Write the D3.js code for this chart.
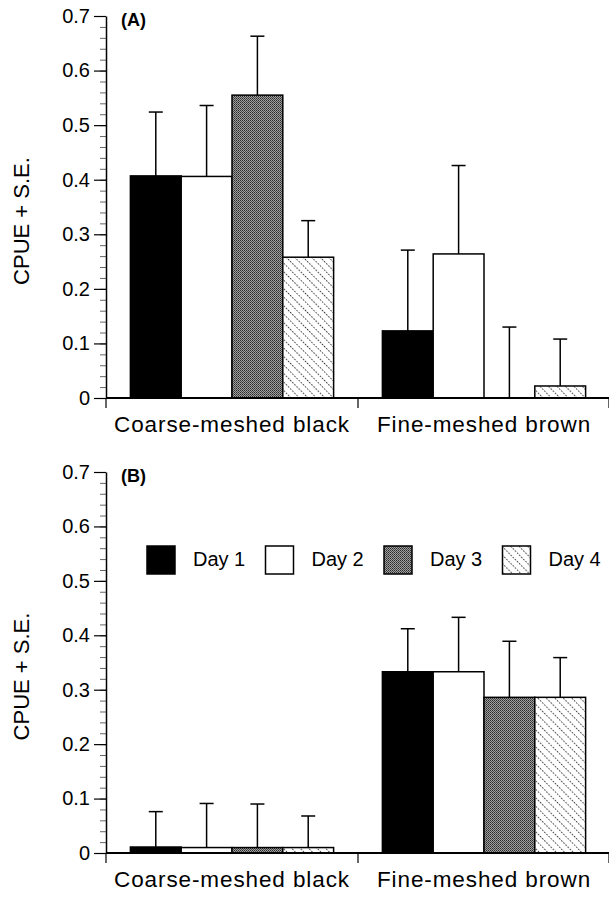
<!DOCTYPE html>
<html>
<head>
<meta charset="utf-8">
<script src="https://cdn.jsdelivr.net/npm/d3@7"></script>
<style>
  body { margin: 0; background: #fff; }
  text { font-family: "Liberation Sans", Arial, sans-serif; }
</style>
</head>
<body>
<div id="canvas"></div>
<script>
// data
var categories = ["Coarse-meshed black", "Fine-meshed brown"];
var days = ["Day 1", "Day 2", "Day 3", "Day 4"];
var yTicks = [0, 0.1, 0.2, 0.3, 0.4, 0.5, 0.6, 0.7];

var meansA = [[0.407, 0.406, 0.555, 0.258], [0.123, 0.264, 0, 0.022]];
var seA    = [[0.117, 0.130, 0.108, 0.067], [0.148, 0.162, 0.130, 0.086]];
var meansB = [[0.011, 0.010, 0.010, 0.010], [0.333, 0.333, 0.286, 0.286]];
var seB    = [[0.065, 0.081, 0.080, 0.058], [0.079, 0.100, 0.103, 0.073]];

var width = 609, height = 897;
var svg = d3.select("#canvas").append("svg").attr("width", width).attr("height", height);

var defs = svg.append("defs");
var dots = defs.append("pattern").attr("id", "dots").attr("patternUnits", "userSpaceOnUse")
    .attr("width", 2).attr("height", 2);
dots.append("rect").attr("width", 2).attr("height", 2).attr("fill", "#a0a0a0");
dots.append("rect").attr("width", 1).attr("height", 1).attr("fill", "#2a2a2a");
dots.append("rect").attr("x", 1).attr("y", 1).attr("width", 1).attr("height", 1).attr("fill", "#4a4a4a");

var hatch = defs.append("pattern").attr("id", "hatch").attr("patternUnits", "userSpaceOnUse")
    .attr("width", 6).attr("height", 6).attr("patternTransform", "rotate(45)");
hatch.append("rect").attr("width", 6).attr("height", 6).attr("fill", "#fff");
hatch.append("line").attr("x1", 0).attr("x2", 6).attr("y1", 0.5).attr("y2", 0.5)
    .attr("stroke", "#333").attr("stroke-width", 1).attr("stroke-dasharray", "1.5,1.5");

var fills = ["#000", "#fff", "url(#dots)", "url(#hatch)"];

var x = d3.scaleBand().domain(categories).range([106, 610]);
var xDay = d3.scaleBand().domain(days).range([0, x.bandwidth()]).paddingOuter(0.48);

function drawPanel(means, se, y0, y1, tag) {
    var y = d3.scaleLinear().domain([0, 0.7]).range([y0, y1]);
    var g = svg.append("g");

    // minor ticks
    g.append("g").attr("transform", "translate(106,0)")
        .call(d3.axisLeft(y).tickValues(d3.range(0, 0.701, 0.02)).tickSize(6).tickFormat(""))
        .call(function(a) {
            a.select(".domain").remove();
            a.selectAll("line").attr("stroke", "#666").attr("stroke-width", 1);
        });

    var yAxis = g.append("g").attr("transform", "translate(106,0)")
        .call(d3.axisLeft(y).tickValues(yTicks).tickSize(12).tickSizeOuter(0).tickPadding(4)
            .tickFormat(function(d) { return d === 0 ? "0" : d3.format(".1f")(d); }));
    yAxis.select(".domain").attr("stroke-width", 1.5);
    yAxis.selectAll("line").attr("stroke-width", 1.2);
    yAxis.selectAll("text").attr("font-size", "20px").attr("fill", "#000")
        .style("font-family", "Liberation Sans, Arial, sans-serif");

    g.append("text")
        .attr("transform", "translate(29," + ((y0 + y1) / 2 + 14) + ") rotate(-90)")
        .attr("text-anchor", "middle")
        .attr("font-size", "22px")
        .text("CPUE + S.E.");

    g.append("text").attr("x", 121).attr("y", y1 + 10)
        .attr("font-size", "18px").attr("font-weight", "bold").text(tag);

    // bars
    categories.forEach(function(c, ci) {
        var cg = g.append("g").attr("transform", "translate(" + x(c) + ",0)");
        days.forEach(function(d, di) {
            var v = means[ci][di];
            var top = y(v + se[ci][di]);
            var cx = xDay(d) + xDay.bandwidth() / 2;
            cg.append("line").attr("x1", cx).attr("x2", cx).attr("y1", y(v)).attr("y2", top)
                .attr("stroke", "#000").attr("stroke-width", 1.5);
            cg.append("line").attr("x1", cx - 7).attr("x2", cx + 7).attr("y1", top).attr("y2", top)
                .attr("stroke", "#000").attr("stroke-width", 1.5);
            if (v > 0) {
                cg.append("rect").attr("x", xDay(d)).attr("y", y(v))
                    .attr("width", xDay.bandwidth()).attr("height", y0 - y(v))
                    .attr("fill", fills[di]).attr("stroke", "#000").attr("stroke-width", 1.5);
            }
        });
        cg.append("text").attr("x", x.bandwidth() / 2).attr("y", y0 + 34)
            .attr("text-anchor", "middle").attr("font-size", "22.5px")
            .attr("letter-spacing", "0.9px").text(c);
    });

    // category axis
    g.append("line").attr("x1", 106).attr("x2", 610).attr("y1", y0).attr("y2", y0)
        .attr("stroke", "#000").attr("stroke-width", 2);
    categories.concat([null]).forEach(function(c) {
        var xx = c === null ? 609 : x(c);
        g.append("line").attr("x1", xx).attr("x2", xx).attr("y1", y0).attr("y2", y0 + 10)
            .attr("stroke", "#000").attr("stroke-width", 1.2);
    });
    return y;
}

drawPanel(meansA, seA, 398, 16, "(A)");
drawPanel(meansB, seB, 853, 472, "(B)");

// legend
var leg = svg.append("g").attr("transform", "translate(147,546)");
days.forEach(function(d, i) {
    var lg = leg.append("g").attr("transform", "translate(" + (i * 118.5) + ",0)");
    lg.append("rect").attr("width", 28).attr("height", 28).attr("fill", fills[i])
        .attr("stroke", "#000").attr("stroke-width", 1.5);
    lg.append("text").attr("x", 46).attr("y", 20).attr("font-size", "20px").text(d);
});
</script>
</body>
</html>
